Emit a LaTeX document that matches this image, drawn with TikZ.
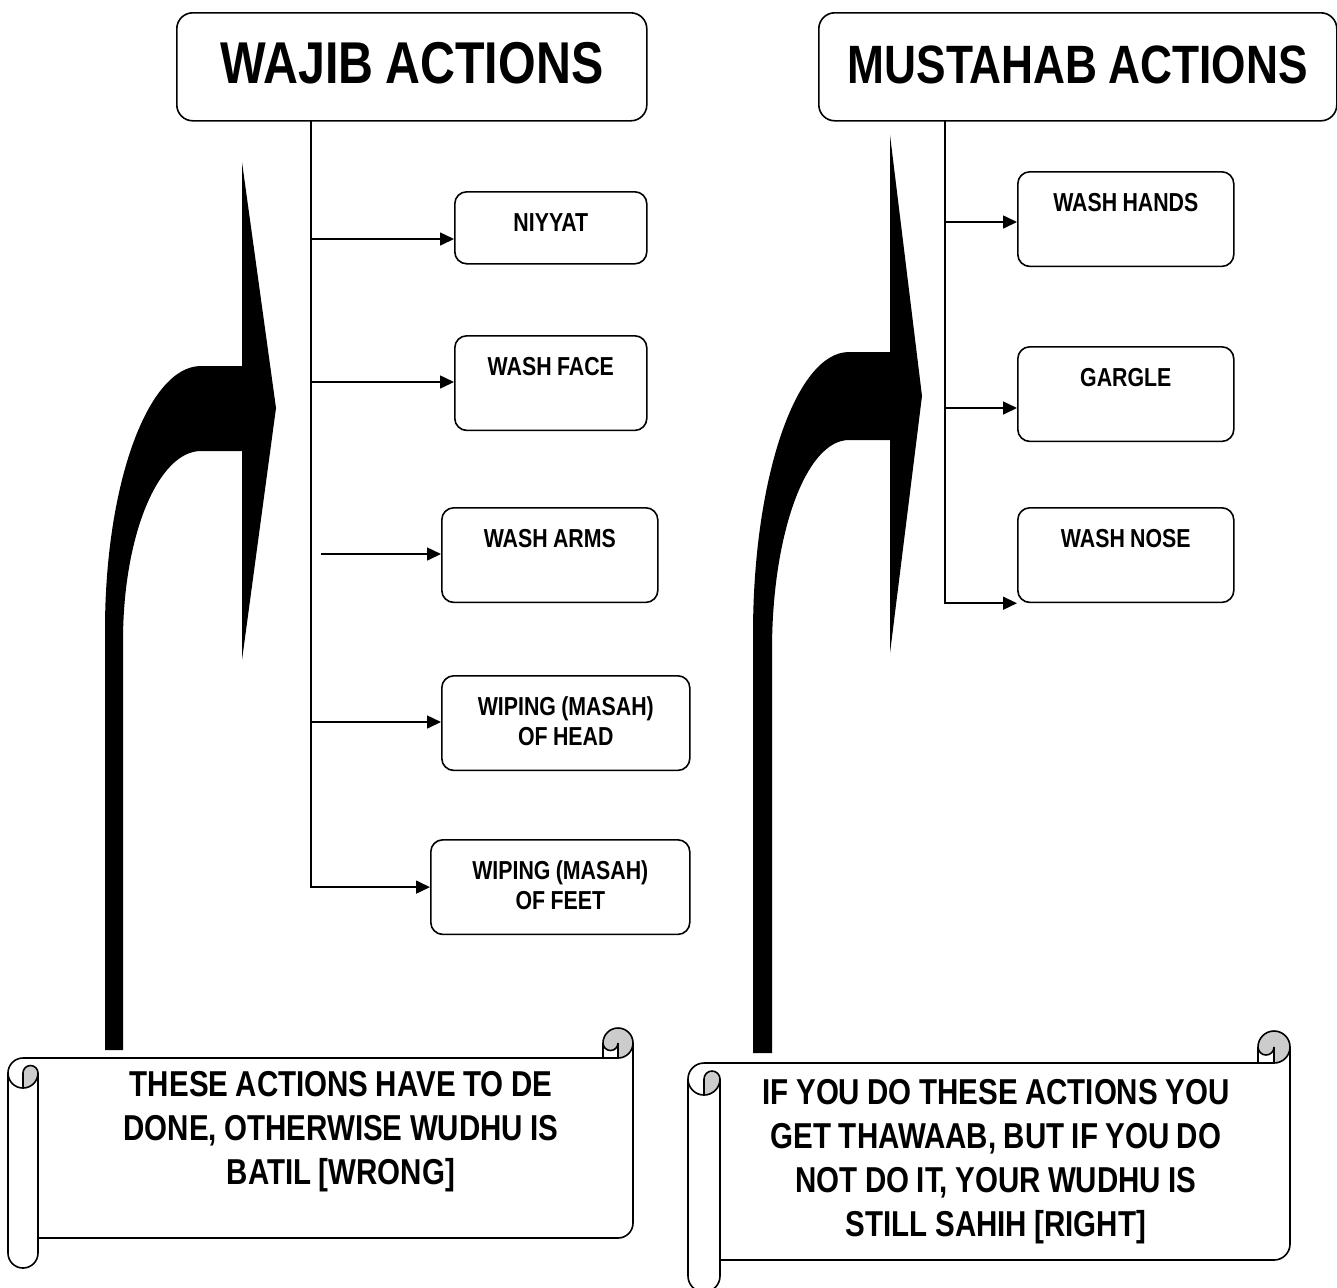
\documentclass[tikz,border=0pt]{standalone}
\usepackage{fontspec}
\setmainfont{Liberation Sans}[FakeStretch=0.82, WordSpace=0.9]
\usetikzlibrary{arrows.meta}

\definecolor{rollgray}{RGB}{204,204,204}

% scroll banner: left, top, right, bottom, roll size
\newcommand{\scrollbanner}[5]{%
  \fill[rollgray] (#1+#5/2,#2+2*#5) arc[start angle=90, delta angle=-90, radius=#5/2]
    arc[start angle=0, delta angle=-180, radius=#5/4] -- cycle;
  \fill[rollgray] (#3-#5/2,#2+#5) arc[start angle=90, delta angle=-270, radius=#5/2]
    arc[start angle=180, delta angle=-180, radius=#5/4] -- cycle;
  \draw (#1,#2+1.5*#5) arc[start angle=180, delta angle=90, radius=#5/2]
    -- (#3-#5,#2+#5) -- (#3-#5,#2+#5/2) arc[start angle=180, delta angle=180, radius=#5/2]
    -- (#3,#4-1.5*#5) arc[start angle=0, delta angle=90, radius=#5/2]
    -- (#1+#5,#4-#5) -- (#1+#5,#4-#5/2) arc[start angle=0, delta angle=180, radius=#5/2] -- cycle;
  \draw (#3-#5,#2+#5) -- (#3-#5/2,#2+#5) arc[start angle=90, delta angle=-90, radius=#5/2];
  \draw (#3-#5/2,#2+#5) -- (#3-#5/2,#2+#5/2) arc[start angle=0, delta angle=180, radius=#5/4];
  \draw (#1+#5/2,#2+2*#5) -- (#1+#5/2,#2+1.5*#5) arc[start angle=180, delta angle=180, radius=#5/4]
    arc[start angle=0, delta angle=180, radius=#5/2];
  \draw (#1+#5,#2+1.5*#5) -- (#1+#5,#4-#5);
}

\begin{document}
\begin{tikzpicture}[x=0.5pt, y=-0.5pt, line width=0.8pt]

  \useasboundingbox (0,0) rectangle (1337,1287);

  \begin{scope}[every node/.style={draw, rounded corners=8pt, anchor=north west,
      minimum height=54pt, inner xsep=0pt, text height=21pt, text depth=4pt}]
    \node[minimum width=235pt, font=\bfseries\fontsize{29.5}{32}\selectfont] (wajib)
      at (176,12) {WAJIB ACTIONS};
    \node[minimum width=259pt, font=\bfseries\fontsize{27}{32}\selectfont] (mustahab)
      at (818,12) {MUSTAHAB ACTIONS};
  \end{scope}

  \begin{scope}[every node/.style={draw, rounded corners=6pt, anchor=north west,
      align=flush center, inner xsep=0pt, inner ysep=10.5pt, text height=9.3pt,
      text depth=17pt, font=\bfseries\fontsize{13}{15}\selectfont}]
    \node[text width=96pt, text depth=5.7pt] (niyyat) at (454,191) {NIYYAT};
    \node[text width=96pt]    (washface)   at (454,335)  {WASH FACE};
    \node[text width=108pt]   (washarms)   at (441,507)  {WASH ARMS};
    \node[text width=124pt]   (wipinghead) at (441,675)  {WIPING (MASAH)\\OF HEAD};
    \node[text width=129.5pt] (wipingfeet) at (430,839)  {WIPING (MASAH)\\OF FEET};
    \node[text width=108pt]   (washhands)  at (1017,171) {WASH HANDS};
    \node[text width=108pt]   (gargle)     at (1017,346) {GARGLE};
    \node[text width=108pt]   (washnose)   at (1017,507) {WASH NOSE};
  \end{scope}

  \begin{scope}[-{Triangle[length=7pt,width=6.5pt]}]
    \coordinate (wtrunk) at (311,120);
    \coordinate (w1) at (311,239);
    \coordinate (w2) at (311,382);
    \coordinate (w3) at (321,554);
    \coordinate (w4) at (311,722);
    \draw (wtrunk) |- (wipingfeet);
    \draw (w1) -- (w1 -| niyyat.west);
    \draw (w2) -- (w2 -| washface.west);
    \draw (w3) -- (w3 -| washarms.west);
    \draw (w4) -- (w4 -| wipinghead.west);

    \coordinate (mtrunk) at (945,120);
    \coordinate (m1) at (945,222);
    \coordinate (m2) at (945,408);
    \draw (mtrunk) |- (washnose.south west);
    \draw (m1) -- (m1 -| washhands.west);
    \draw (m2) -- (m2 -| gargle.west);
  \end{scope}

  % brackets
  \fill (242,162) -- (276,408) -- (242,660) -- (242,451) -- (201,451)
    .. controls (158,451) and (123,536) .. (123,641) -- (123,1050) -- (105,1050) -- (105,630)
    .. controls (105,484) and (148,366) .. (201,366) -- (242,366) -- cycle;
  \fill (890,135) -- (922,396) -- (890,653) -- (890,440) -- (849,440)
    .. controls (806,440) and (772,534) .. (772,650) -- (772,1053) -- (753,1053) -- (753,634)
    .. controls (753,478) and (796,352) .. (849,352) -- (890,352) -- cycle;

  % scrolls
  \scrollbanner{8}{1028}{633}{1268}{30}
  \scrollbanner{688}{1031}{1290}{1292}{32}

  \begin{scope}[every node/.style={align=center, inner sep=0pt, anchor=north,
      font=\bfseries\fontsize{18}{22}\selectfont}]
    \node (wajibnote) at (341,1071)
      {THESE ACTIONS HAVE TO DE\\DONE, OTHERWISE WUDHU IS\\BATIL [WRONG]};
    \node (mustahabnote) at (996,1079)
      {IF YOU DO THESE ACTIONS YOU\\GET THAWAAB, BUT IF YOU DO\\NOT DO IT, YOUR WUDHU IS\\STILL SAHIH [RIGHT]};
  \end{scope}

\end{tikzpicture}
\end{document}
